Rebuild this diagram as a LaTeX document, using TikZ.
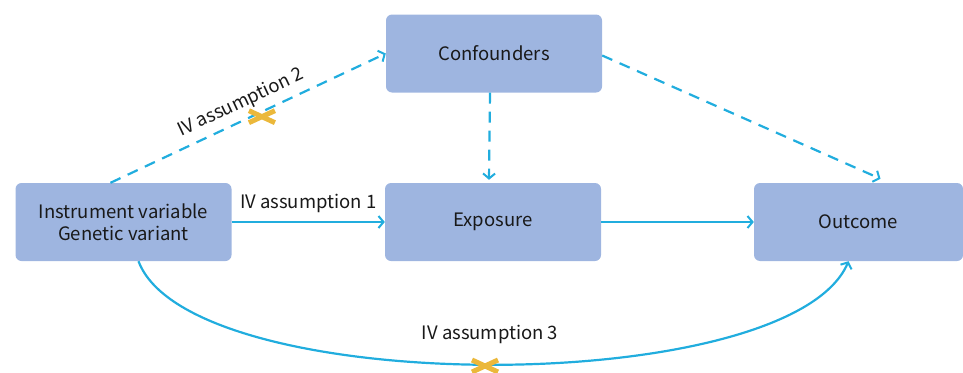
\documentclass[tikz,border=0pt]{standalone}
\usepackage{fontspec}
\setmainfont{Noto Sans CJK SC}
\usetikzlibrary{arrows.meta}
\definecolor{boxcolor}{rgb}{0.62,0.71,0.88}
\definecolor{arrowcolor}{rgb}{0.13,0.68,0.87}
\definecolor{crosscolor}{rgb}{0.92,0.72,0.23}

\begin{document}
\begin{tikzpicture}[x=1pt, y=1pt,
    every node/.style={font=\fontsize{18.5}{22}\selectfont, text=black!90},
    var/.style={fill=boxcolor, rounded corners=6pt, minimum width=216pt,
      minimum height=78pt, align=center, inner sep=0pt},
    link/.style={draw=arrowcolor, line width=2.2pt,
      -{Straight Barb[length=5pt, width=12pt, line width=2pt]}},
    maybe/.style={link, dash pattern=on 11pt off 8pt},
    nope/.style={crosscolor, line width=5pt}]
  \useasboundingbox (0,0) rectangle (963,-372);

  \node[var] (inst) at (123.5,-222) {Instrument variable\\Genetic variant};
  \node[var] (conf) at (494,-53.5) {Confounders};
  \node[var] (expo) at (493,-222) {Exposure};
  \node[var, minimum width=209pt] (outc) at (858.5,-222) {Outcome};

  \draw[link] (inst) -- node[above=5pt] (lab1) {IV assumption 1} (expo);
  \draw[link] (expo) -- (outc);
  \draw[maybe] ([xshift=-13pt]inst.north) --
    node[midway, above=3pt, sloped] (lab2) {IV assumption 2}
    coordinate[pos=0.55, yshift=-5pt] (cross2) (conf.west);
  \draw[maybe] ([xshift=-4pt]conf.south) -- ([xshift=-4pt, yshift=3pt]expo.north);
  \draw[maybe] ([yshift=-2pt]conf.east) -- ([xshift=22pt, yshift=4pt]outc.north);
  \draw[link] ([xshift=15pt]inst.south) .. controls (190,-399) and (790,-399) ..
    ([xshift=-10pt]outc.south);
  \node (lab3) at (490,-334) {IV assumption 3};
  \coordinate (cross3) at (485,-366);

  % the two crosses
  \foreach \c in {cross2, cross3} {
    \draw[nope] ([shift={(-13,-6)}]\c) -- ([shift={(13,6)}]\c);
    \draw[nope] ([shift={(-13,6)}]\c) -- ([shift={(13,-6)}]\c);
  }
\end{tikzpicture}
\end{document}
